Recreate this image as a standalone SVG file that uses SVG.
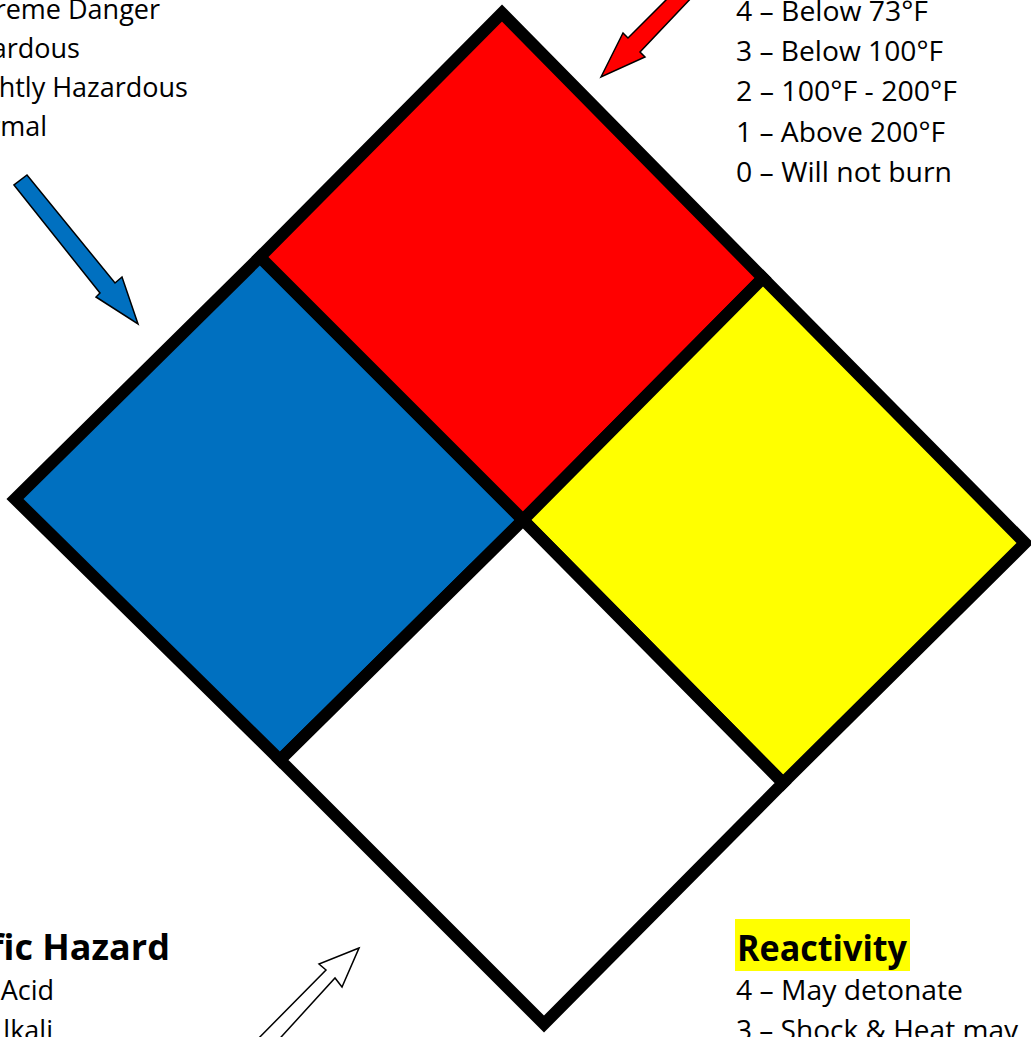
<svg xmlns="http://www.w3.org/2000/svg" width="1031" height="1037" viewBox="0 0 1031 1037">
<style>
.t{font-family:"Open Sans","Liberation Sans",sans-serif;font-size:27px;fill:#000}
.b{font-family:"Open Sans","Liberation Sans",sans-serif;font-size:36px;font-weight:bold;fill:#000}
.q{stroke:#000;stroke-width:12;stroke-linejoin:miter;stroke-miterlimit:10}
.ar{stroke:#000;stroke-width:1.5;stroke-linejoin:miter}
</style>
<rect width="1031" height="1037" fill="#fff"/>
<g id="health">
<polygon class="q" fill="#0070C0" points="15,499 260,257 523,520 280,760"/>
</g>
<g id="flammability">
<polygon class="q" fill="#FF0000" points="260,257 502,13 763,278 523,520"/>
</g>
<g id="reactivity">
<polygon class="q" fill="#FFFF00" points="523,520 763,278 1025,543 783,783"/>
</g>
<g id="special">
<polygon class="q" fill="#FFFFFF" points="280,760 523,520 783,783 544,1024"/>
</g>
<g id="connectors">
<polygon class="ar" fill="#0070C0" points="14,185 100,293 96,297 138,324 122,277 115,283 27,175"/>
<polygon class="ar" fill="#FF0000" points="601,77 623,33 628,38 671,-5 694,-5 640,52 645,57"/>
<polygon class="ar" fill="#FFFFFF" points="359,948 319,964 326,970 250,1047 272,1047 335,978 342,987"/>
</g>
<g id="health-legend">
<text class="t" x="160" y="19" text-anchor="end">reme Danger</text>
<text class="t" x="80" y="58" text-anchor="end">ardous</text>
<text class="t" x="188" y="97" text-anchor="end">htly Hazardous</text>
<text class="t" x="47" y="136" text-anchor="end">rmal</text>
</g>
<g id="flammability-legend">
<text class="t" x="736" y="21" textLength="192" lengthAdjust="spacingAndGlyphs">4 – Below 73°F</text>
<text class="t" x="736" y="61" textLength="207" lengthAdjust="spacingAndGlyphs">3 – Below 100°F</text>
<text class="t" x="736" y="101" textLength="221" lengthAdjust="spacingAndGlyphs">2 – 100°F - 200°F</text>
<text class="t" x="736" y="142" textLength="209" lengthAdjust="spacingAndGlyphs">1 – Above 200°F</text>
<text class="t" x="736" y="182" textLength="216" lengthAdjust="spacingAndGlyphs">0 – Will not burn</text>
</g>
<g id="special-legend">
<text class="b" x="170" y="960" text-anchor="end">fic Hazard</text>
<text class="t" x="54" y="1000" text-anchor="end">Acid</text>
<text class="t" x="53" y="1040" text-anchor="end">lkali</text>
</g>
<g id="reactivity-legend">
<rect x="735" y="919" width="175" height="52" fill="#FFFF00"/>
<text class="b" x="737" y="961" textLength="170" lengthAdjust="spacingAndGlyphs">Reactivity</text>
<text class="t" x="736" y="1000" textLength="227" lengthAdjust="spacingAndGlyphs">4 – May detonate</text>
<text class="t" x="736" y="1040" textLength="282" lengthAdjust="spacingAndGlyphs">3 – Shock &amp; Heat may</text>
</g>
</svg>
